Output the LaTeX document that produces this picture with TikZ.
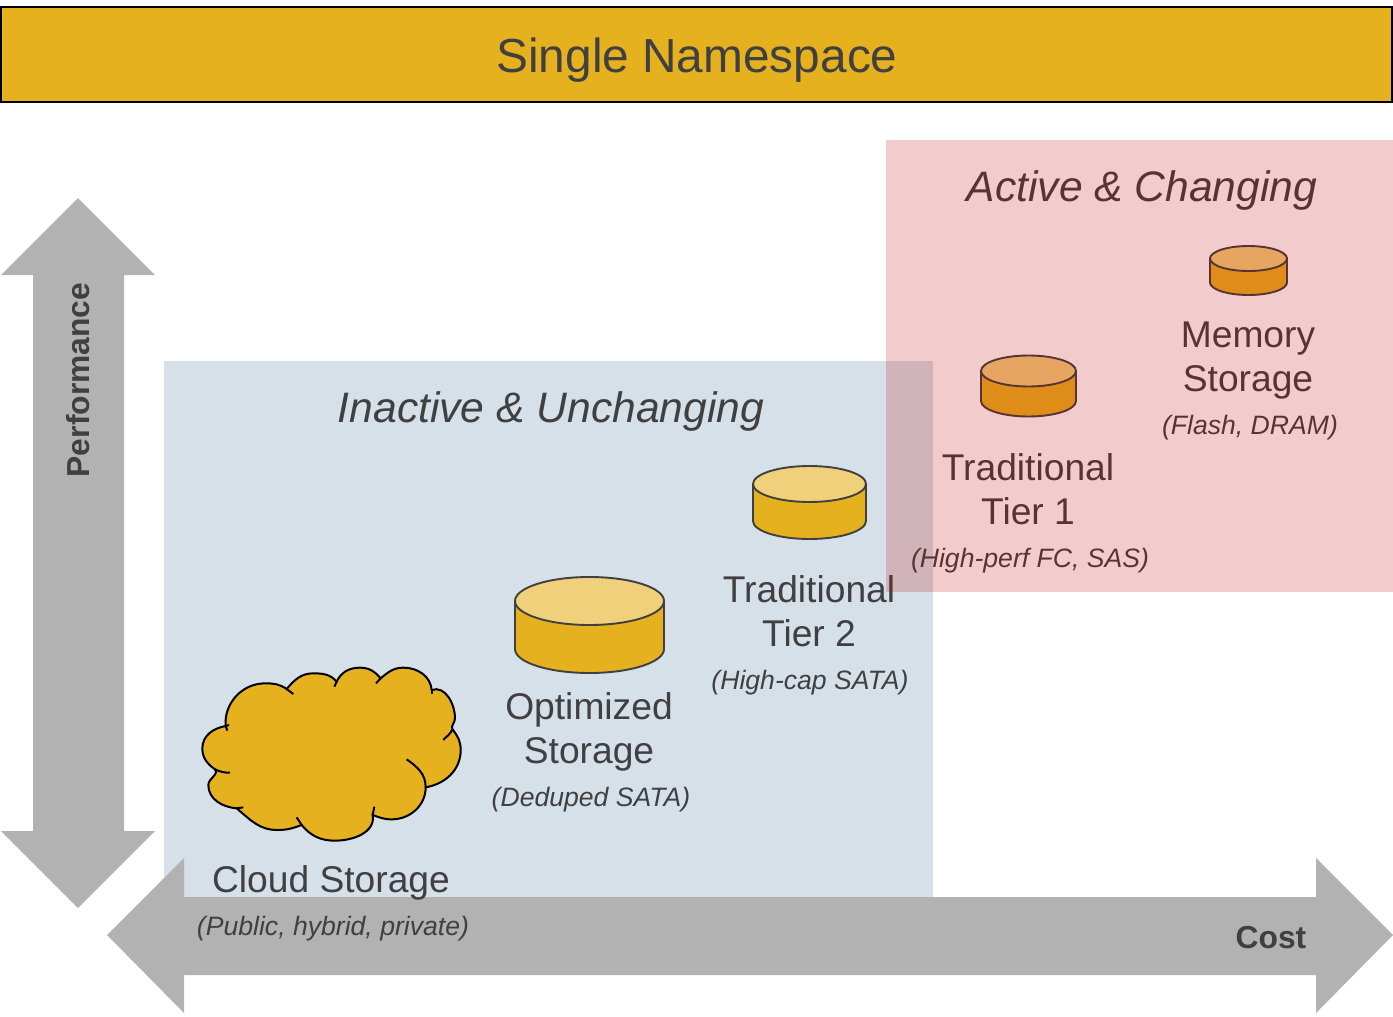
\documentclass[tikz,border=0pt]{standalone}
\usepackage{fontspec}
\setmainfont{Liberation Sans}
\definecolor{gold}{HTML}{E6B11F}
\definecolor{goldtop}{HTML}{F0D07A}
\definecolor{ink}{HTML}{404040}
\definecolor{axisgrey}{HTML}{B2B2B2}
\definecolor{bluezone}{HTML}{D6E0E9}
\definecolor{redzone}{HTML}{C00000}
\newcommand\diskcyl[5]{%
  \filldraw[disk,fill=gold] (#1-#3,#2) -- ++(0,#5) arc[start angle=180,end angle=0,x radius=#3,y radius=#4] -- ++(0,-#5) -- cycle;
  \filldraw[disk,fill=goldtop] (#1,#2) ellipse[x radius=#3,y radius=#4];
}
\tikzset{
  x=0.5pt,y=-0.5pt,
  disk/.style={draw=ink,line width=0.95pt},
  label/.style={text=ink,inner sep=0pt,outer sep=0pt},
  zonetitle/.style={label,anchor=base,font=\fontsize{21.3}{25}\selectfont\itshape},
  tiername/.style={label,align=center,font=\fontsize{18.6}{22}\selectfont},
  tiersub/.style={label,anchor=base,font=\fontsize{13.3}{16}\selectfont\itshape},
  axislabel/.style={label,anchor=base,font=\fontsize{15.9}{19}\selectfont\bfseries},
  cloudline/.style={draw=black,line width=1pt},
}
\begin{document}
\begin{tikzpicture}
\useasboundingbox (0,0) rectangle (1393,1017);
% zones
\fill[bluezone] (164,361) rectangle (933,905);
% axes
\fill[axisgrey] (78,198) -- (155,275) -- (124,275) -- (124,831) -- (155,831) -- (78,908) -- (1,831) -- (33,831) -- (33,275) -- (1,275) -- cycle;
\fill[axisgrey] (107,935) -- (184,858) -- (184,897) -- (1316,897) -- (1316,858) -- (1393,935) -- (1316,1013) -- (1316,975) -- (184,975) -- (184,1013) -- cycle;
\node[axislabel,rotate=90] (perf) at (90,380) {Performance};
\node[axislabel] (cost) at (1271,948) {Cost};
% banner
\path[draw=black,line width=1pt,fill=gold] (1,7) rectangle (1392,102);
\node[label,anchor=base,font=\fontsize{23.9}{28}\selectfont] (banner) at (697,72) {Single Namespace};
% titles
\node[zonetitle] (active) at (1142,201) {Active \& Changing};
\node[zonetitle] (inactive) at (551,422) {Inactive \& Unchanging};
% disks
\diskcyl{1248.5}{258.5}{38.5}{12.5}{24}
\diskcyl{1028.5}{371}{47.5}{15.5}{30}
\diskcyl{809.5}{484}{56.5}{18}{37}
\diskcyl{589.5}{601}{74.5}{24}{48}
% cloud
\begin{scope}[shift={(190,650)},x=0.16667pt,y=-0.16667pt]
\filldraw[cloudline,fill=gold] (107,228)
  to[out=95,in=180] (225,100) to[out=0,in=145] (290,117)
  to[out=50,in=180] (370,70) to[out=0,in=130] (440,95)
  to[out=65,in=180] (510,53) to[out=0,in=130] (572,85)
  to[out=40,in=180] (640,53) to[out=0,in=95] (725,120)
  to[out=20,in=90] (795,205) to[out=-90,in=110] (787,238)
  to[out=-50,in=90] (812,300) to[out=-90,in=10] (707,412)
  to[out=-90,in=0] (605,508) to[out=180,in=-20] (548,495)
  to[out=-80,in=0] (435,572) to[out=180,in=-50] (335,525)
  to[out=-160,in=0] (262,540) to[out=180,in=-40] (140,475)
  to[out=175,in=-90] (55,405) to[out=90,in=-50] (75,358)
  to[out=145,in=-90] (37,295) to[out=90,in=190] (107,228) -- cycle;
\draw[cloudline] (290,117) -- (310,132);
\draw[cloudline] (440,95) -- (433,110);
\draw[cloudline] (572,85) -- (558,100);
\draw[cloudline] (725,120) -- (725,133);
\draw[cloudline] (787,238) to[out=-110,in=50] (760,270);
\draw[cloudline] (707,412) to[out=90,in=-35] (650,328);
\draw[cloudline] (548,495) -- (553,470);
\draw[cloudline] (335,525) -- (320,502);
\draw[cloudline] (140,475) -- (160,472);
\draw[cloudline] (75,358) to[out=-25,in=180] (120,368);
\draw[cloudline] (107,228) -- (112,242);
\draw[cloudline] (107,228) -- (117,225);
\end{scope}
% tier labels
\node[tiername] (memory) at (1248,361) {Memory\\Storage};
\node[tiersub] (memorysub) at (1250,434) {(Flash, DRAM)};
\node[tiername] (tier1) at (1028,489) {Traditional\\Tier 1};
\node[tiersub] (tier1sub) at (1030,567) {(High-perf FC, SAS)};
\node[tiername] (tier2) at (809,611) {Traditional\\Tier 2};
\node[tiersub] (tier2sub) at (810,689) {(High-cap SATA)};
\node[tiername] (optimized) at (589,732) {Optimized\\Storage};
\node[tiersub] (optimizedsub) at (591,806) {(Deduped SATA)};
\node[label,anchor=base,font=\fontsize{18.6}{22}\selectfont] (cloudname) at (331,892) {Cloud Storage};
\node[tiersub] (cloudsub) at (333,935) {(Public, hybrid, private)};
% translucent red zone over everything
\fill[redzone,fill opacity=0.2] (886,140) rectangle (1393,592);
\end{tikzpicture}
\end{document}
